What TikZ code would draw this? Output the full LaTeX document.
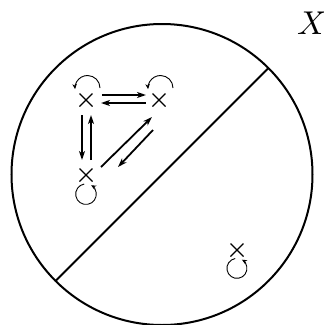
\documentclass[tikz,border=0pt]{standalone}
\usepackage{graphicx}
\usetikzlibrary{arrows.meta,calc}
\begin{document}
\begin{tikzpicture}[x=1pt,y=-1pt,line width=2pt,
  crs/.style={inner sep=0pt,minimum size=0pt},
  arr/.style={line width=1.8pt,-{Stealth[length=9pt,width=6pt,inset=2.5pt]}},
  loopl/.style={line width=0.9pt,-{Stealth[length=5pt,width=4.5pt]}}]
\useasboundingbox (0,0) rectangle (324,325);
\node[crs] (lbl) at (312,23) {\scalebox{3.3}{$X$}};
\coordinate (o) at (162,174.5);
\draw (o) circle (150.5);
\coordinate (la) at ($(o)+(-106.4,106.4)$);
\coordinate (lb) at ($(o)+(106.4,-106.4)$);
\draw (la) -- (lb);
% crosses
\foreach \n/\x/\y in {a/86/100, b/159/100, c/86/175, d/237/250}{
  \coordinate (\n) at (\x,\y);
  \draw[line width=1.1pt] (\x-6.5,\y-6.5) -- (\x+6.5,\y+6.5) (\x-6.5,\y+6.5) -- (\x+6.5,\y-6.5);
}
% loops above a and b
\draw[loopl] ($(a)+(14,-12)$) arc (0:-185:12.5);
\draw[loopl] ($(b)+(14,-12)$) arc (0:-185:12.5);
% loops below c and d
\draw[loopl] ($(c)+(-1.8,9)$) arc (-100:-420:10.3);
\draw[loopl] ($(d)+(-1.8,8.5)$) arc (-100:-420:10);
% arrows
\draw[arr] ($(a)+(16,-5)$) -- ($(b)+(-13,-5)$);
\draw[arr] ($(b)+(-13,3)$) -- ($(a)+(15,3)$);
\draw[arr] ($(a)+(-4,15)$) -- ($(c)+(-4,-15)$);
\draw[arr] ($(c)+(5,-15)$) -- ($(a)+(5,15)$);
\draw[arr] ($(c)+(15,-8)$) -- ($(b)+(-7,17)$);
\draw[arr] ($(b)+(-6,30)$) -- ($(c)+(32,-8)$);
\end{tikzpicture}
\end{document}
